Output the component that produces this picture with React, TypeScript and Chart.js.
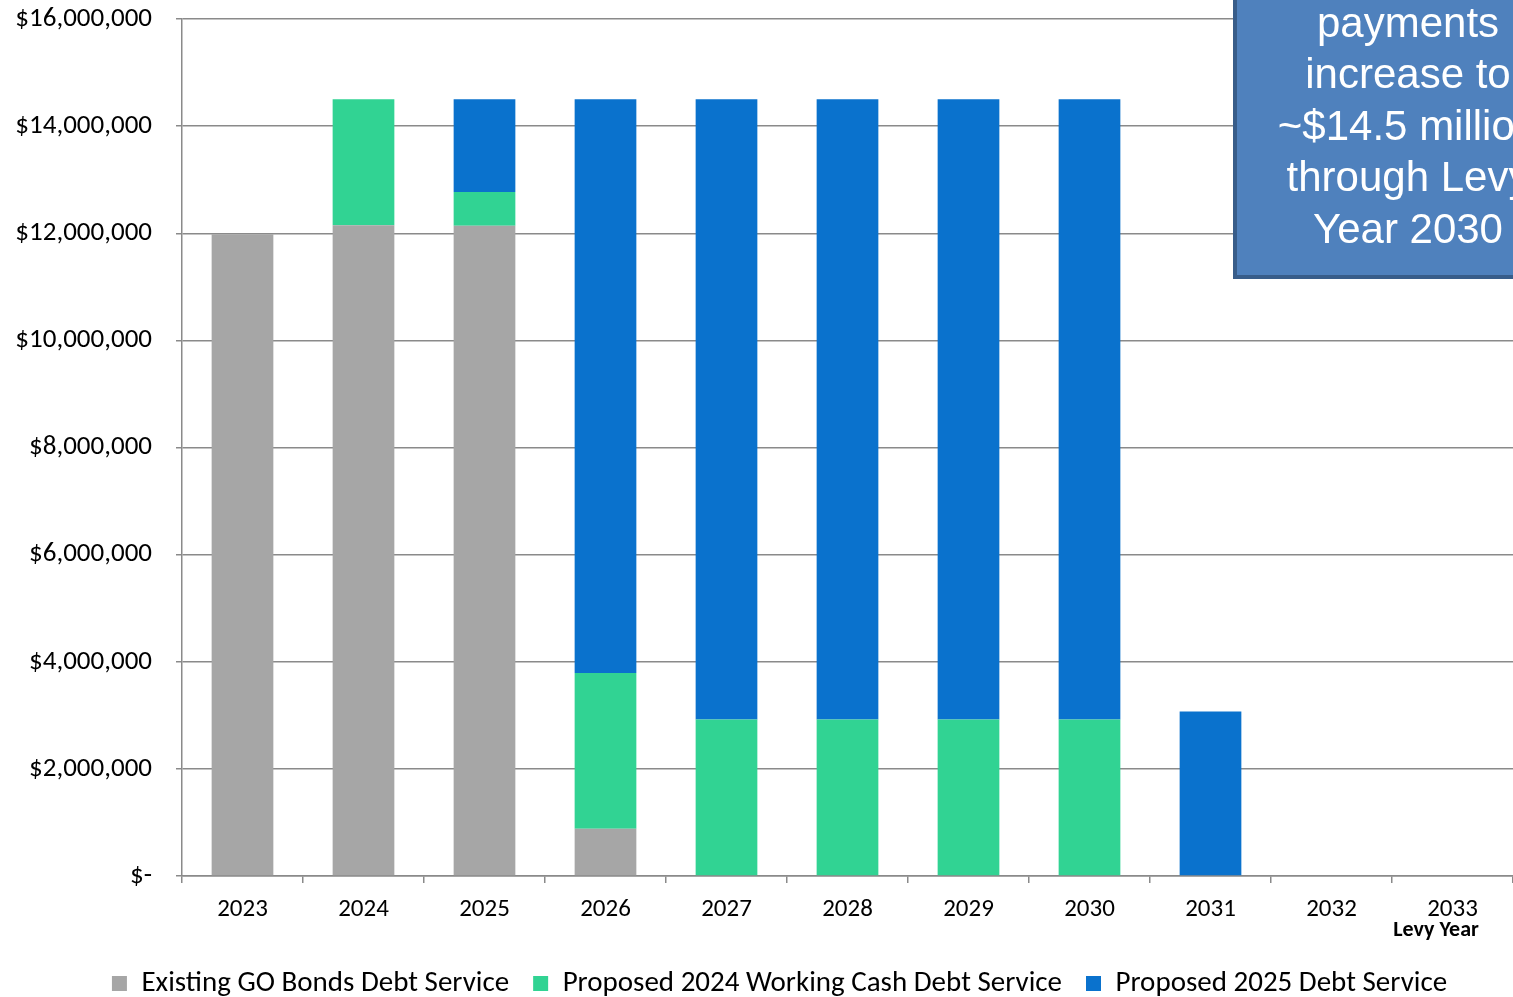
import React, { useEffect, useRef } from "react";
import { Chart, registerables } from "chart.js";

Chart.register(...registerables);

const categories = ["2023", "2024", "2025", "2026", "2027", "2028", "2029", "2030", "2031", "2032", "2033"];
const existingGOBonds = [11980000, 12150000, 12140000, 880000, 0, 0, 0, 0, 0, 0, 0];
const workingCash2024 = [0, 2350000, 630000, 2910000, 2920000, 2920000, 2920000, 2920000, 0, 0, 0];
const proposed2025 = [0, 0, 1730000, 10710000, 11580000, 11580000, 11580000, 11580000, 3070000, 0, 0];
const seriesLabels = [
  "Existing GO Bonds Debt Service",
  "Proposed 2024 Working Cash Debt Service",
  "Proposed 2025 Debt Service",
];
const seriesColors = ["#A6A6A6", "#31D393", "#0A72CD"];
const yMin = 0;
const yMax = 16000000;
const yStep = 2000000;
const axisTitle = "Levy Year";
const calloutLines = ["payments", "increase to", "~$14.5 million", "through Levy", "Year 2030"];

const FONT = "Carlito, Lato, 'Noto Sans', sans-serif";

const overlayPlugin = {
  id: "overlay",
  afterLayout(chart: any) {
    const lg = chart.legend;
    if (lg) {
      lg.left += 23;
      lg.right += 23;
    }
  },
  afterDraw(chart: any) {
    const { ctx, chartArea } = chart;
    ctx.save();
    // Axis title "Levy Year"
    ctx.font = `bold 22px ${FONT}`;
    ctx.fillStyle = "#000";
    ctx.textAlign = "center";
    ctx.textBaseline = "middle";
    ctx.fillText(axisTitle, chartArea.right - 77, chartArea.bottom + 54);

    // Callout box
    const left = chartArea.right - 278;
    const bottom = chartArea.top + 258;
    const top = -20;
    const right = chartArea.right + 80;
    ctx.fillStyle = "#4F81BD";
    ctx.fillRect(left, top, right - left, bottom - top);
    ctx.strokeStyle = "#385D8A";
    ctx.lineWidth = 4;
    ctx.strokeRect(left, top, right - left, bottom - top);

    ctx.fillStyle = "#FFFFFF";
    ctx.font = `42px 'Liberation Sans', Arial, sans-serif`;
    ctx.textAlign = "center";
    ctx.textBaseline = "middle";
    const cx = chartArea.right - 105;
    calloutLines.forEach((line, i) => {
      ctx.fillText(line, cx, chartArea.top + 6 + i * 51.5);
    });
    ctx.restore();
  },
};

export default function App() {
  const canvasRef = useRef<HTMLCanvasElement | null>(null);

  useEffect(() => {
    const canvas = canvasRef.current;
    if (!canvas) return;
    const chart = new Chart(canvas, {
      type: "bar",
      data: {
        labels: categories,
        datasets: [
          { label: seriesLabels[0], data: existingGOBonds, backgroundColor: seriesColors[0] },
          { label: seriesLabels[1], data: workingCash2024, backgroundColor: seriesColors[1] },
          { label: seriesLabels[2], data: proposed2025, backgroundColor: seriesColors[2] },
        ],
      },
      options: {
        animation: false,
        responsive: false,
        devicePixelRatio: 1,
        layout: { padding: { top: 19, left: 0, right: 0, bottom: -11 } },
        datasets: {
          bar: { barPercentage: 0.51, categoryPercentage: 1.0 },
        },
        plugins: {
          tooltip: { enabled: false },
          legend: {
            position: "bottom",
            labels: {
              boxWidth: 15,
              boxHeight: 15,
              padding: 24,
              color: "#000",
              font: { family: FONT, size: 29 },
            },
          },
        },
        scales: {
          x: {
            stacked: true,
            afterFit: (s: any) => {
              s.height = 69;
            },
            grid: {
              drawOnChartArea: false,
              drawTicks: true,
              tickLength: 7,
              color: "#8A8A8A",
              lineWidth: 1.5,
            },
            border: { display: true, color: "#8A8A8A", width: 1.5 },
            ticks: {
              color: "#000",
              font: { family: FONT, size: 25 },
              padding: 12,
              maxRotation: 0,
            },
          },
          y: {
            stacked: true,
            min: yMin,
            max: yMax,
            afterFit: (s: any) => {
              s.width = 182;
              s.paddingTop = 12;
              s.paddingBottom = 12;
            },
            grid: {
              color: "#8A8A8A",
              lineWidth: 1.5,
              drawTicks: true,
              tickLength: 6,
            },
            border: { display: true, color: "#8A8A8A", width: 1.5 },
            ticks: {
              stepSize: yStep,
              color: "#000",
              padding: 24,
              font: { family: FONT, size: 27 },
              callback: (v: any) => (Number(v) === 0 ? "$-" : "$" + Number(v).toLocaleString("en-US")),
            },
          },
        },
      },
      plugins: [overlayPlugin],
    });
    return () => chart.destroy();
  }, []);

  return (
    <div style={{ position: "absolute", left: 0, top: 0, width: 1513, height: 997, background: "#fff" }}>
      <canvas ref={canvasRef} width={1513} height={997} style={{ width: 1513, height: 997, display: "block" }} />
    </div>
  );
}
